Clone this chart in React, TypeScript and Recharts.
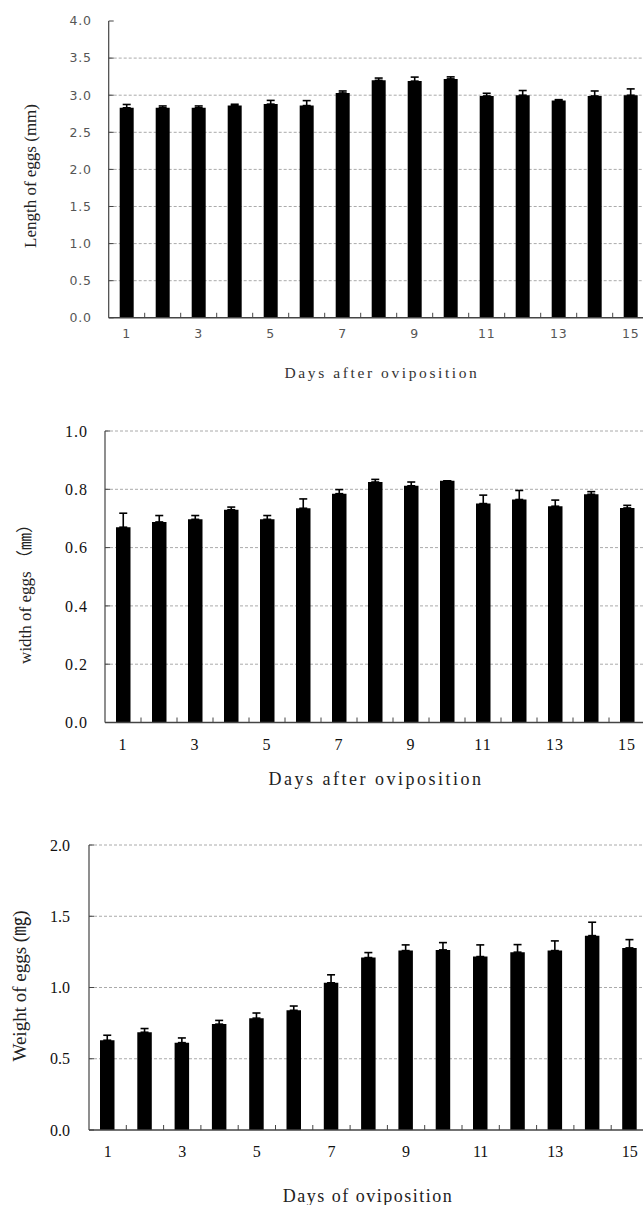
import React from "react";
import { BarChart, Bar, XAxis, YAxis, CartesianGrid, ErrorBar } from "recharts";

const days = [1, 2, 3, 4, 5, 6, 7, 8, 9, 10, 11, 12, 13, 14, 15];
const dayLabels = ["1", "3", "5", "7", "9", "11", "13", "15"];

const lengthMean = [2.83, 2.83, 2.83, 2.86, 2.88, 2.86, 3.03, 3.2, 3.19, 3.22, 2.99, 3.0, 2.93, 2.99, 3.0];
const lengthErr = [0.045, 0.025, 0.025, 0.018, 0.05, 0.067, 0.027, 0.031, 0.054, 0.027, 0.036, 0.063, 0.01, 0.067, 0.085];
const lengthTicks = [0, 0.5, 1, 1.5, 2, 2.5, 3, 3.5, 4];
const lengthGrid = [0.5, 1, 1.5, 2, 2.5, 3, 3.5];

const widthMean = [0.67, 0.688, 0.697, 0.73, 0.697, 0.735, 0.785, 0.825, 0.812, 0.829, 0.751, 0.765, 0.742, 0.783, 0.736];
const widthErr = [0.048, 0.022, 0.013, 0.009, 0.013, 0.032, 0.014, 0.009, 0.013, 0, 0.029, 0.031, 0.021, 0.009, 0.009];
const widthTicks = [0, 0.2, 0.4, 0.6, 0.8, 1.0];
const widthGrid = [0.2, 0.4, 0.6, 0.8, 1.0];

const weightMean = [0.63, 0.686, 0.613, 0.743, 0.785, 0.84, 1.033, 1.21, 1.259, 1.264, 1.217, 1.248, 1.259, 1.364, 1.278];
const weightErr = [0.035, 0.026, 0.033, 0.026, 0.036, 0.03, 0.056, 0.035, 0.04, 0.051, 0.082, 0.053, 0.068, 0.094, 0.058];
const weightTicks = [0, 0.5, 1, 1.5, 2];
const weightGrid = [0.5, 1, 1.5, 2];

type Font = { family: string; size: number; color: string; spacing?: number; weight?: number | string };

type PanelProps = {
  mean: number[];
  err: number[];
  ticks: number[];
  grid: number[];
  plotTop: number;
  plotBottom: number;
  plotLeft: number;
  band: number;
  barSize: number;
  font: Font;
  yGap: number;
  xOffset: number;
};

const TOP_PAD = 12;
const X_AXIS_H = 40;
const AXIS = "#444";

function Panel(p: PanelProps) {
  const data = days.map((d, i) => ({ day: d, mean: p.mean[i], err: [0, p.err[i]] }));
  const plotH = p.plotBottom - p.plotTop;
  const width = p.plotLeft + p.band * days.length;
  const height = TOP_PAD + plotH + X_AXIS_H;
  const baseY = TOP_PAD + plotH;
  const textStyle = {
    fontFamily: p.font.family,
    fontSize: p.font.size,
    fill: p.font.color,
    letterSpacing: p.font.spacing ?? 0,
    fontWeight: p.font.weight ?? "normal",
  };

  const renderYTick = (props: any) => {
    const y = props.payload.coordinate;
    return (
      <g>
        <line x1={p.plotLeft} x2={p.plotLeft + 5} y1={y} y2={y} stroke={AXIS} strokeWidth={1} />
        <text x={p.plotLeft - p.yGap} y={y} dy="0.35em" textAnchor="end" style={textStyle}>
          {Number(props.payload.value).toFixed(1)}
        </text>
      </g>
    );
  };

  const renderXTick = (props: any) => {
    const x = props.payload.coordinate;
    const label = String(props.payload.value);
    return (
      <g>
        <line
          x1={x + p.band / 2}
          x2={x + p.band / 2}
          y1={baseY}
          y2={baseY - 5}
          stroke={AXIS}
          strokeWidth={1}
        />
        {dayLabels.includes(label) && (
          <text x={x} y={baseY + p.xOffset} dy="0.35em" textAnchor="middle" style={textStyle}>
            {label}
          </text>
        )}
      </g>
    );
  };

  return (
    <div style={{ position: "absolute", left: 0, top: p.plotTop - TOP_PAD }}>
      <BarChart
        width={width}
        height={height}
        data={data}
        margin={{ top: TOP_PAD, right: 0, bottom: 0, left: 0 }}
        barSize={p.barSize}
      >
        <CartesianGrid vertical={false} horizontalValues={p.grid} stroke="#aaa" strokeDasharray="3 2" />
        <XAxis
          dataKey="day"
          height={X_AXIS_H}
          interval={0}
          tickSize={0}
          axisLine={{ stroke: AXIS, strokeWidth: 1.5 }}
          tick={renderXTick}
        />
        <YAxis
          width={p.plotLeft}
          domain={[p.ticks[0], p.ticks[p.ticks.length - 1]]}
          ticks={p.ticks}
          interval={0}
          tickSize={0}
          axisLine={{ stroke: AXIS, strokeWidth: 1.2 }}
          tick={renderYTick}
        />
        <Bar dataKey="mean" fill="#000" isAnimationActive={false}>
          <ErrorBar dataKey="err" width={4} stroke="#000" strokeWidth={1.6} />
        </Bar>
      </BarChart>
    </div>
  );
}

function Title({ text, x, y, size, rotate, spacing, color }: any) {
  return (
    <div
      style={{
        position: "absolute",
        left: x,
        top: y,
        transform: `translate(-50%, -50%)${rotate ? " rotate(-90deg)" : ""}`,
        whiteSpace: "nowrap",
        fontFamily: "'Liberation Serif', 'Noto Sans CJK KR', serif",
        fontSize: size,
        letterSpacing: spacing ?? 0,
        color: color ?? "#222",
        lineHeight: 1,
      }}
    >
      {text}
    </div>
  );
}

export default function App() {
  return (
    <div
      style={{
        position: "absolute",
        left: 0,
        top: 0,
        width: 643,
        height: 1205,
        overflow: "hidden",
        background: "#fff",
      }}
    >
      <Panel
        mean={lengthMean}
        err={lengthErr}
        ticks={lengthTicks}
        grid={lengthGrid}
        plotTop={20.5}
        plotBottom={317.3}
        plotLeft={108.7}
        band={36}
        barSize={14}
        font={{ family: "'DejaVu Sans', sans-serif", size: 12.5, color: "#555", spacing: 0.8 }}
        yGap={17}
        xOffset={16}
      />
      <Title text="Length of eggs (mm)" x={30} y={176} size={17} rotate />
      <Title text="Days after oviposition" x={382} y={373} size={15.5} spacing={2.6} color="#333" />

      <Panel
        mean={widthMean}
        err={widthErr}
        ticks={widthTicks}
        grid={widthGrid}
        plotTop={430.5}
        plotBottom={722}
        plotLeft={105}
        band={36}
        barSize={14.5}
        font={{ family: "'Liberation Serif', serif", size: 16, color: "#111", spacing: 1 }}
        yGap={17}
        xOffset={22}
      />
      <Title text="width of eggs （㎜）" x={25} y={590} size={17} rotate />
      <Title text="Days after oviposition" x={376} y={779} size={18} spacing={2.5} />

      <Panel
        mean={weightMean}
        err={weightErr}
        ticks={weightTicks}
        grid={weightGrid}
        plotTop={845}
        plotBottom={1130}
        plotLeft={89}
        band={37.3}
        barSize={14.5}
        font={{ family: "'Liberation Serif', serif", size: 16, color: "#111" }}
        yGap={19}
        xOffset={21}
      />
      <Title text="Weight of eggs (㎎)" x={19} y={986} size={19} rotate />
      <Title text="Days of oviposition" x={368} y={1196} size={18} spacing={1.5} />
    </div>
  );
}
